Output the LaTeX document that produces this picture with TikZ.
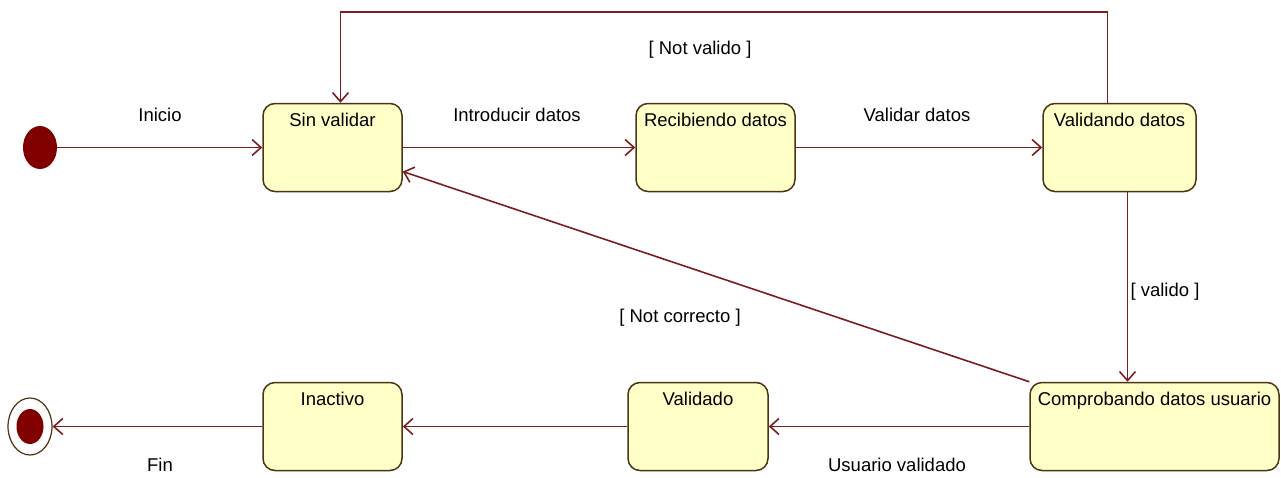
\documentclass[tikz,border=0pt]{standalone}
\usepackage{fontspec}
\setmainfont{Liberation Sans}
\usetikzlibrary{arrows.meta,shapes.geometric}
\definecolor{stfill}{HTML}{FFFFC8}
\definecolor{stline}{HTML}{4B3414}
\definecolor{trline}{HTML}{7A1E1E}
\definecolor{dotred}{HTML}{800000}

\begin{document}
\begin{tikzpicture}[x=1pt,y=-1pt,font=\fontsize{18.5}{22}\selectfont,
  stbox/.style={draw=stline,fill=stfill,line width=1.5pt,rounded corners=12pt,
    text height=14pt,text depth=56pt,inner ysep=9pt,inner xsep=2pt},
  trans/.style={draw=trline,line width=1.6pt,-{Straight Barb[length=9pt,width=16pt]}},
  lbl/.style={inner sep=1pt}]
  \useasboundingbox (0,0) rectangle (1281,477);
  % states
  \node[shape=ellipse,fill=dotred,minimum width=34pt,minimum height=43pt,inner sep=0pt] (inicio) at (40,147.5) {};
  \node[stbox,minimum width=139pt] (sinvalidar) at (332.5,147.5) {Sin validar};
  \node[stbox,minimum width=159pt] (recibiendo) at (715.5,147.5) {Recibiendo datos};
  \node[stbox,minimum width=153pt] (validando) at (1119.5,147.5) {Validando datos};
  \node[stbox,minimum width=249pt] (comprobando) at (1154.5,426.5) {Comprobando datos usuario};
  \node[stbox,minimum width=140pt] (validado) at (698,426.5) {Validado};
  \node[stbox,minimum width=139pt] (inactivo) at (332.5,426.5) {Inactivo};
  \node[shape=ellipse,draw=stline,fill=white,line width=1.2pt,minimum width=44pt,minimum height=57pt,inner sep=0pt] (fin) at (30,426.5) {};
  \fill[dotred] (fin.center) ellipse (13.5 and 17.5);
  % transitions
  \draw[trans] (inicio) -- (sinvalidar);
  \draw[trans] (sinvalidar) -- (recibiendo);
  \draw[trans] (recibiendo) -- (validando);
  \draw[trans] ([xshift=-12pt]validando.north) -- ++(0,-91) -| ([xshift=8pt]sinvalidar.north);
  \draw[trans] ([xshift=8pt]validando.south) -- ([xshift=-27pt]comprobando.north);
  \draw[trans] (comprobando.north west) -- ([yshift=-24pt]sinvalidar.east);
  \draw[trans] (comprobando) -- (validado);
  \draw[trans] (validado) -- (inactivo);
  \draw[trans] (inactivo) -- (fin);
  % labels
  \node[lbl] (tinicio) at (160,115) {Inicio};
  \node[lbl] (tintro) at (517,115) {Introducir datos};
  \node[lbl] (tvalidar) at (917,115) {Validar datos};
  \node[lbl] (tnotvalido) at (700,50) {[ Not valido ]};
  \node[lbl] (tvalido) at (1165,292) {[ valido ]};
  \node[lbl] (tnotcorrecto) at (680,318) {[ Not correcto ]};
  \node[lbl] (tusuario) at (897,465) {Usuario validado};
  \node[lbl] (tfin) at (160,465) {Fin};
\end{tikzpicture}
\end{document}
